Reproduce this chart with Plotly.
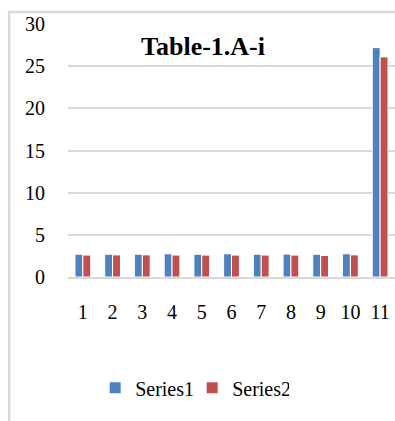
import plotly.graph_objects as go

categories = ["1", "2", "3", "4", "5", "6", "7", "8", "9", "10", "11"]
series1 = [2.7, 2.7, 2.7, 2.75, 2.7, 2.75, 2.7, 2.72, 2.7, 2.75, 27.2]
series2 = [2.6, 2.62, 2.62, 2.6, 2.6, 2.6, 2.6, 2.6, 2.55, 2.62, 26.1]
y_ticks = [0, 5, 10, 15, 20, 25, 30]

SERIF = "Liberation Serif"
GRID = "#d9d9d9"

fig = go.Figure()
fig.add_trace(go.Bar(x=categories, y=series1, name="Series1",
                     marker=dict(color="#4F81BD", line=dict(color="white", width=1))))
fig.add_trace(go.Bar(x=categories, y=series2, name="Series2",
                     marker=dict(color="#C0504D", line=dict(color="white", width=1))))

fig.update_layout(
    width=395, height=421,
    margin=dict(l=68, r=0, t=24, b=144),
    paper_bgcolor="white", plot_bgcolor="white",
    barmode="group", bargap=0.47, bargroupgap=0,
    font=dict(family=SERIF, size=20, color="#000000"),
    showlegend=True,
    legend=dict(orientation="h", x=0.083, xanchor="left", y=-0.438, yanchor="middle",
                font=dict(family=SERIF, size=20), itemwidth=30, entrywidth=52,
                bgcolor="rgba(0,0,0,0)"),
    xaxis=dict(type="category", range=[-0.5, 10.5], showgrid=False,
               showline=True, linecolor=GRID, linewidth=2,
               ticks="", ticklabelstandoff=16, fixedrange=True,
               tickfont=dict(family=SERIF, size=20)),
    yaxis=dict(range=[0, 30], tickvals=y_ticks, showgrid=True, gridcolor=GRID,
               gridwidth=2, zeroline=False, showline=False, ticks="",
               ticklabelstandoff=22, fixedrange=True,
               tickfont=dict(family=SERIF, size=20)),
    annotations=[dict(text="<b>Table-1.A-i</b>", xref="paper", yref="paper",
                      x=0.413, y=0.91, xanchor="center", yanchor="middle",
                      showarrow=False, font=dict(family=SERIF, size=26))],
    shapes=[dict(type="rect", xref="paper", yref="paper",
                 x0=-0.18, x1=1.02, y0=-1.0, y1=1.047,
                 line=dict(color=GRID, width=2.5), layer="below")],
)

fig.write_html("out.html")
